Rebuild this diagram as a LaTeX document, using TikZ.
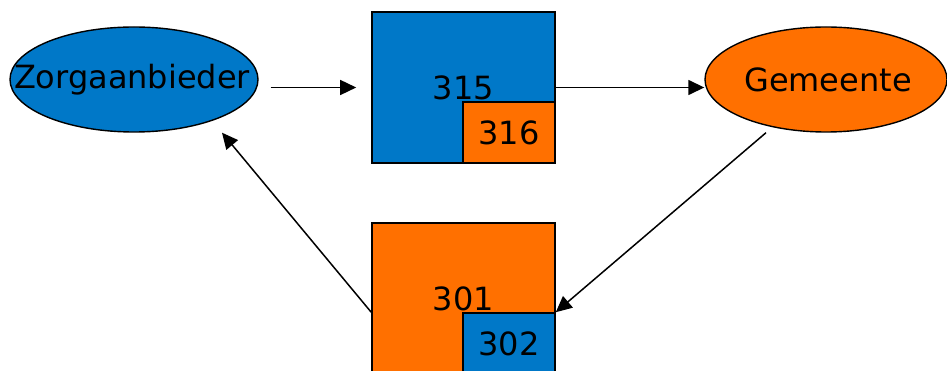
\documentclass[tikz,border=0pt]{standalone}
\usepackage{fontspec}
\setmainfont{DejaVu Sans}
\usetikzlibrary{shapes.geometric,arrows.meta,calc}
\definecolor{myblue}{RGB}{0,120,200}
\definecolor{myorange}{RGB}{255,112,0}
\begin{document}
\begin{tikzpicture}[x=1pt,y=1pt,
  lbl/.style={font=\fontsize{32}{36}\selectfont, inner sep=0pt},
  oval/.style={ellipse, draw=black, line width=1.4pt, minimum width=248pt, minimum height=105pt, inner sep=0pt},
  bigbox/.style={rectangle, draw=black, line width=1.6pt, minimum width=183pt, minimum height=151pt, inner sep=0pt},
  smallbox/.style={rectangle, draw=black, line width=1.6pt, minimum width=92pt, minimum height=61pt, inner sep=0pt},
  arr/.style={line width=1.5pt, -{Triangle[length=16pt,width=15pt]}}
]
\useasboundingbox (0,0) rectangle (947,-371);
\clip (0,0) rectangle (947,-371);
% ellipses
\node[oval, fill=myblue] (zorg) at (134,-79.5) {};
\node[lbl] (zorgtxt) at (132,-80) {Zorgaanbieder};
\node[oval, fill=myorange, minimum width=242pt] (gem) at (826,-79.5) {};
\node[lbl] (gemtxt) at (828,-80) {Gemeente};
% top boxes
\node[bigbox, fill=myblue] (b315) at (463.5,-87.5) {};
\node[lbl] (t315) at (463.5,-88) {315};
\node[smallbox, fill=myorange, label={[lbl]center:316}] (b316) at (509,-132.5) {};
% bottom boxes
\node[bigbox, fill=myorange] (b301) at (463.5,-298.5) {};
\node[lbl] (t301) at (463.5,-299) {301};
\node[smallbox, fill=myblue, label={[lbl]center:302}] (b302) at (509,-343.5) {};
% arrows
\draw[arr] ($(zorg.east |- b315.west)+(12,0)$) -- ($(b315.west)+(-15,0)$);
\draw[arr] (b315.east) -- (b315.east -| gem.west);
\draw[arr] ($(gem.south)+(-60,0)$) -- (b302.north east);
\draw[arr] (b301.west |- b302.north) -- ($(zorg.south)+(88,0)$);
\end{tikzpicture}
\end{document}
